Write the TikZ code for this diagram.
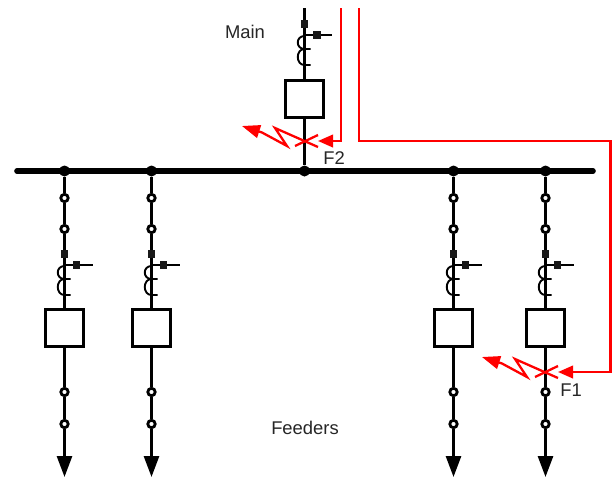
\documentclass[tikz,border=0pt]{standalone}
\usepackage{fontspec}
\setmainfont{Liberation Sans}
\usetikzlibrary{arrows.meta}
\definecolor{faultred}{RGB}{255,0,0}
\tikzset{
  wire/.style={draw=black,line width=2.8pt},
  busbar/.style={draw=black,line width=5.6pt,line cap=round},
  thin wire/.style={draw=black,line width=1.9pt},
  junction/.style={circle,fill=black,inner sep=0pt,minimum size=11pt},
  isolator/.style={circle,draw=black,fill=white,line width=2.8pt,inner sep=0pt,minimum size=7.4pt},
  sqmark/.style={rectangle,fill=black!90,inner sep=0pt,minimum size=7.5pt},
  breaker/.style={rectangle,draw=black,fill=white,line width=2.8pt,inner sep=0pt,minimum width=37.5pt,minimum height=36.5pt},
  load/.style={-{Triangle[length=21pt,width=15pt]},draw=black,line width=2.8pt},
  fault/.style={draw=faultred,line width=2.3pt},
  faultarrow/.style={fault,-{Triangle[length=15pt,width=12.5pt]}},
  lab/.style={font=\fontsize{18.4}{21}\selectfont,text=black!85,inner sep=0pt}
}
\newcommand{\coilpair}[2]{%
  \draw[thin wire] (#1,#2+1) .. controls (#1-9,#2+1) and (#1-9,#2+14) .. (#1,#2+14) -- (#1+6,#2+14);
  \draw[thin wire] (#1,#2+14) .. controls (#1-9,#2+14) and (#1-9,#2+30) .. (#1,#2+30) -- (#1+6,#2+30);
}
\newcommand{\feeder}[2]{%
  \node[junction] (j#2) at (#1,171) {};
  \node[isolator] (a#2) at (#1,198) {};
  \node[isolator] (b#2) at (#1,229) {};
  \node[sqmark] (s#2) at (#1,254) {};
  \coordinate (t#2) at (#1,265);
  \node[sqmark] (m#2) at (#1+12,265) {};
  \coordinate (e#2) at (#1+28,265);
  \node[breaker] (k#2) at (#1,328) {};
  \node[isolator] (c#2) at (#1,392) {};
  \node[isolator] (d#2) at (#1,424) {};
  \coordinate (z#2) at (#1,477);
  \draw[wire] (j#2) -- (a#2);
  \draw[wire] (a#2) -- (b#2);
  \draw[wire] (b#2) -- (s#2);
  \draw[wire] (s#2) -- (k#2);
  \draw[thin wire] (t#2) -- (m#2);
  \draw[thin wire] (m#2) -- (e#2);
  \coilpair{#1}{265}
  \draw[wire] (k#2) -- (c#2);
  \draw[wire] (c#2) -- (d#2);
  \draw[load] (d#2) -- (z#2);
}
\newcommand{\faultmark}[2]{%
  \draw[fault] (#1-10,#2+5) -- (#1+13,#2-6);
  \draw[faultarrow,-{Triangle[length=18pt,width=13pt]}] (#1+13,#2+6) -- (#1-30,#2-13) -- (#1-18,#2+5) -- (#1-43,#2-8.5) -- (#1-63,#2-15);
}
\begin{document}
\begin{tikzpicture}[x=1pt,y=-1pt]
\useasboundingbox (0,0) rectangle (612,477);
\fill[white] (0,0) rectangle (612,477);
\coordinate (busL) at (17,171);
\coordinate (busR) at (593,171);
\draw[busbar] (busL) -- (busR);
\feeder{64.5}{A}
\feeder{151.5}{B}
\feeder{453.5}{C}
\feeder{545.5}{D}
\coordinate (mtop) at (304.5,8);
\node[sqmark] (ms) at (304.5,24) {};
\coordinate (mt) at (304.5,35);
\node[sqmark] (mm) at (317,35) {};
\coordinate (me) at (332,35);
\node[breaker] (mk) at (304.5,99) {};
\node[junction] (mj) at (304.5,171) {};
\draw[wire] (mtop) -- (ms);
\draw[wire] (ms) -- (mk);
\draw[thin wire] (mt) -- (mm);
\draw[thin wire] (mm) -- (me);
\coilpair{304.5}{35}
\draw[wire] (mk) -- (mj);
\faultmark{305}{141}
\faultmark{545}{372}
\coordinate (r1a) at (341,8);
\coordinate (r1b) at (341,141);
\coordinate (r1c) at (318,141);
\draw[faultarrow] (r1a) -- (r1b) -- (r1c);
\coordinate (r2a) at (359,8);
\coordinate (r2b) at (359,141);
\coordinate (r2c) at (610.5,141);
\coordinate (r2d) at (610.5,372);
\coordinate (r2e) at (558,372);
\draw[faultarrow] (r2a) -- (r2b) -- (r2c) -- (r2d) -- (r2e);
\node[lab] (lmain) at (245,32) {Main};
\node[lab] (lf2) at (334,158) {F2};
\node[lab] (lf1) at (571,390) {F1};
\node[lab] (lfeed) at (305,428) {Feeders};
\end{tikzpicture}
\end{document}
